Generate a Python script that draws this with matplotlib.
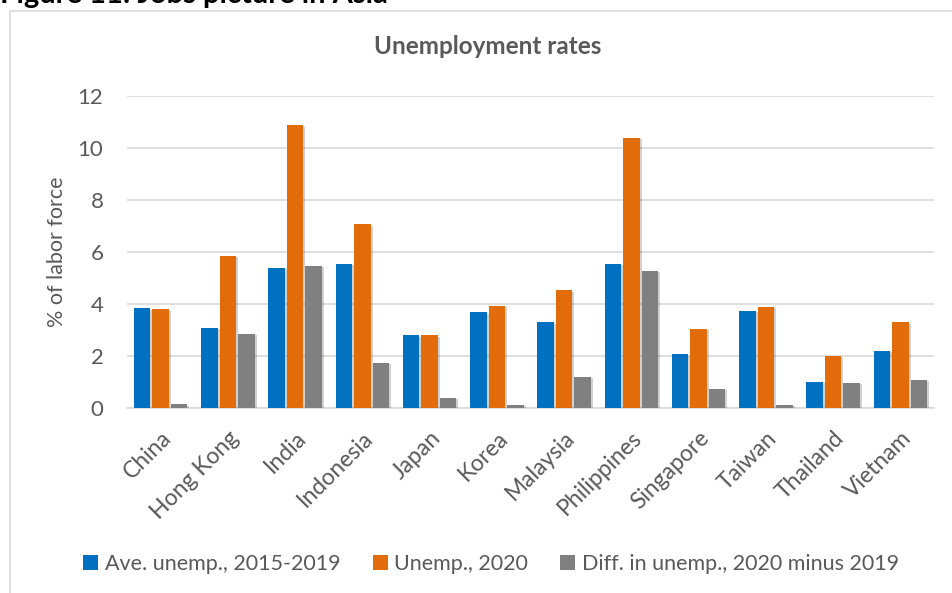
import numpy as np
import matplotlib
matplotlib.use("Agg")
import matplotlib.pyplot as plt
import matplotlib.patheffects as pe
from matplotlib.patches import Rectangle, Patch

# --- data ---
countries = ['China', 'Hong Kong', 'India', 'Indonesia', 'Japan', 'Korea',
             'Malaysia', 'Philippines', 'Singapore', 'Taiwan', 'Thailand', 'Vietnam']
ave_2015_2019 = [3.84, 3.08, 5.40, 5.55, 2.79, 3.68, 3.29, 5.54, 2.06, 3.75, 1.00, 2.20]
unemp_2020 = [3.80, 5.86, 10.87, 7.07, 2.79, 3.94, 4.52, 10.40, 3.04, 3.89, 2.00, 3.30]
diff_2020_2019 = [0.14, 2.85, 5.46, 1.75, 0.40, 0.12, 1.20, 5.27, 0.75, 0.13, 0.96, 1.09]

series_labels = ['Ave. unemp., 2015-2019', 'Unemp., 2020',
                 'Diff. in unemp., 2020 minus 2019']
colors = ['#0070C0', '#E36C0A', '#808080']
text_gray = '#595959'

plt.rcParams['font.family'] = ['Lato', 'DejaVu Sans']

W, H = 952, 593
fig = plt.figure(figsize=(W / 100, H / 100), dpi=100)

# outer chart box (only left and top edges show in the crop)
fig.patches.append(Rectangle((10 / W, -0.2), 1.2, 1 - 11 / H + 0.2,
                             transform=fig.transFigure, fill=False,
                             edgecolor='#D9D9D9', linewidth=1.2))

# figure caption, cropped at the top edge as in the source
fig.text(0.0, 1 - 3 / H, 'Figure 11: Jobs picture in Asia', fontsize=21,
         fontweight='bold', color='black', ha='left', va='baseline')

# chart title is centred on the chart box, not on the plot area
fig.text(488 / W, 1 - 47 / H, 'Unemployment rates', fontsize=17.5,
         fontweight='bold', color=text_gray, ha='center', va='center')

ax = fig.add_axes([127 / W, 1 - 408 / H, (934 - 127) / W, (408 - 96) / H])

x = np.arange(len(countries))
width = 0.245
step = 0.275
shadow = [pe.SimplePatchShadow(offset=(1.5, -1.0), shadow_rgbFace='#000000', alpha=0.18),
          pe.Normal()]
for i, (vals, c) in enumerate(zip([ave_2015_2019, unemp_2020, diff_2020_2019], colors)):
    bars = ax.bar(x + (i - 1) * step, vals, width, color=c, zorder=3)
    for b in bars:
        b.set_path_effects(shadow)

ax.set_xlim(-0.5, len(countries) - 0.5)
ax.set_ylim(0, 12)
ax.set_yticks(range(0, 13, 2))
ax.grid(axis='y', color='#D9D9D9', linewidth=1.2, zorder=0)
ax.set_axisbelow(True)
for s in ['top', 'right', 'left']:
    ax.spines[s].set_visible(False)
ax.spines['bottom'].set_color('#D9D9D9')
ax.spines['bottom'].set_linewidth(1.2)
ax.tick_params(axis='both', length=0, colors=text_gray)
ax.tick_params(axis='y', pad=17, labelsize=16)
ax.set_xticks(x)
ax.set_xticklabels(countries, rotation=45, ha='right', rotation_mode='anchor')
ax.tick_params(axis='x', pad=14, labelsize=16.5)
ax.set_ylabel('% of labor force', fontsize=15.5, color=text_gray, labelpad=8)

handles = [Patch(facecolor=c, edgecolor='none') for c in colors]
fig.legend(handles, series_labels, loc='center', ncol=3,
           bbox_to_anchor=(491 / W, 1 - 564 / H), frameon=False,
           fontsize=15.5, labelcolor=text_gray, handlelength=0.7,
           handleheight=0.7, handletextpad=0.3, columnspacing=1.5)

fig.savefig('out.png', dpi=100)
